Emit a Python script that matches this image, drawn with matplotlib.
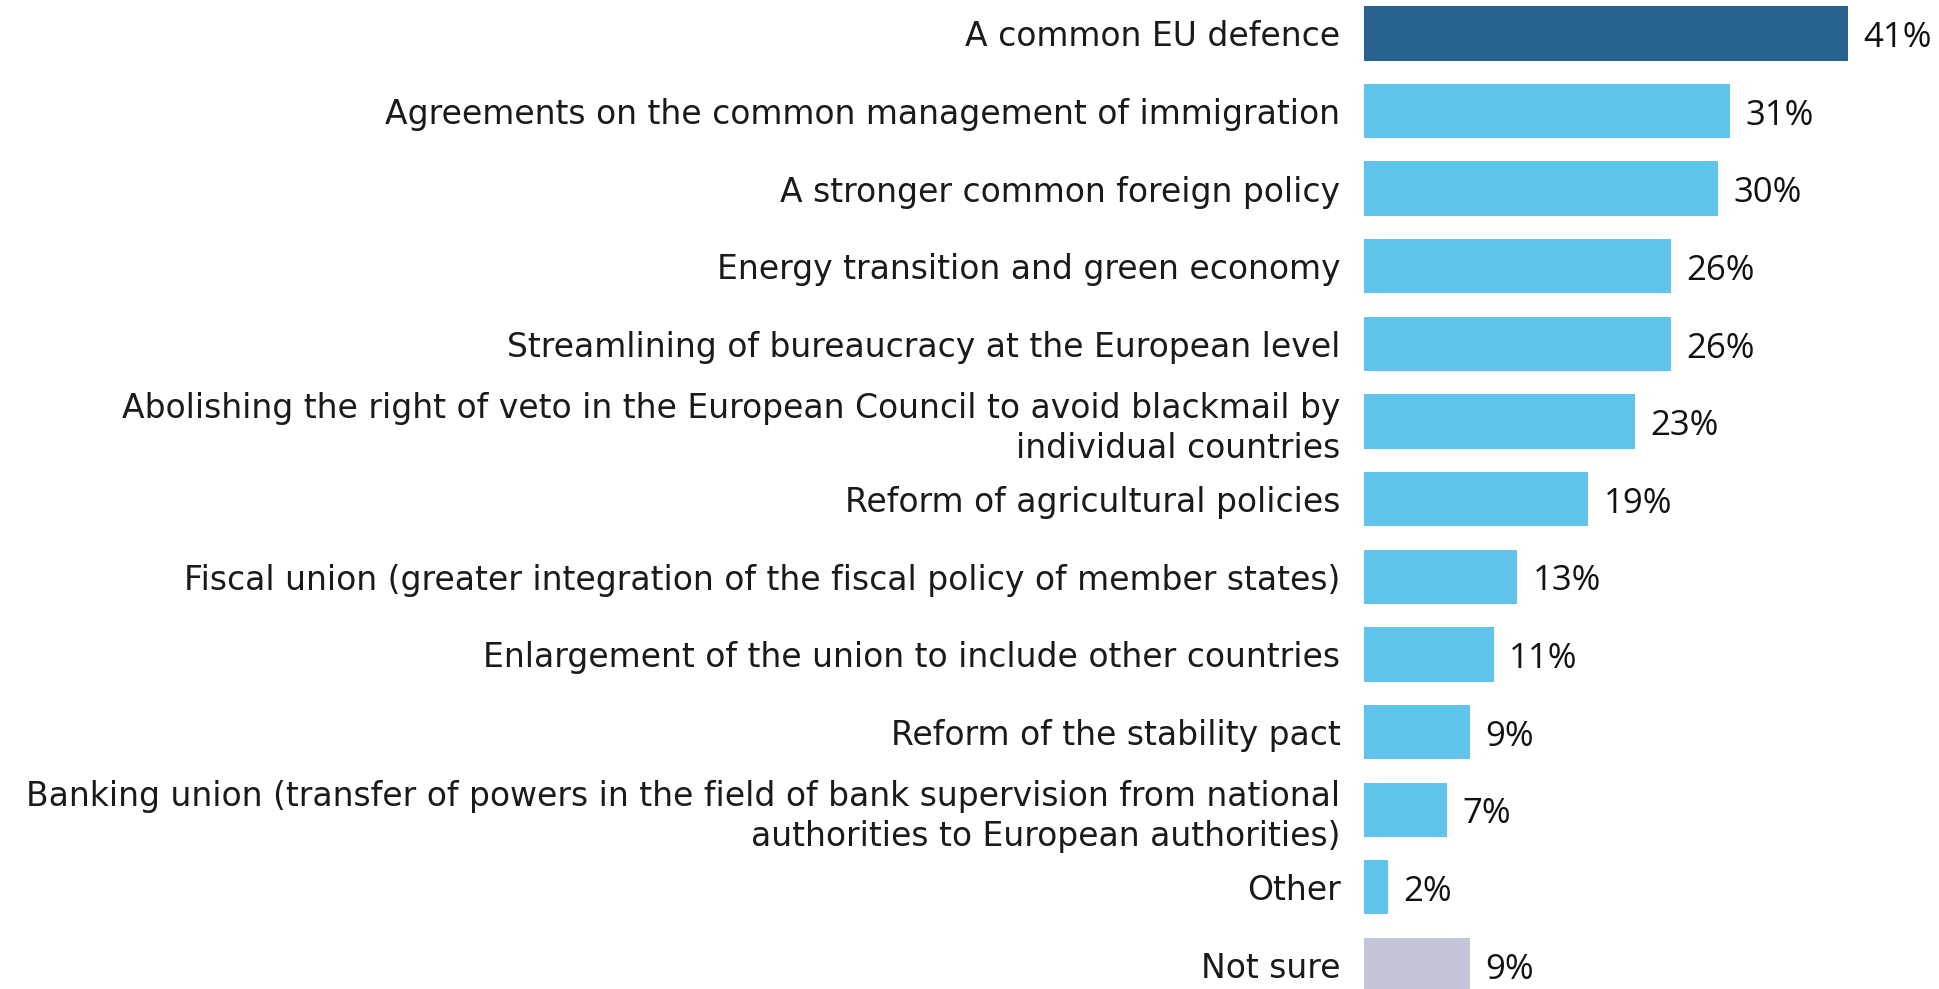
import matplotlib
matplotlib.use("Agg")
import matplotlib.pyplot as plt

categories = [
    "A common EU defence",
    "Agreements on the common management of immigration",
    "A stronger common foreign policy",
    "Energy transition and green economy",
    "Streamlining of bureaucracy at the European level",
    "Abolishing the right of veto in the European Council to avoid blackmail by\nindividual countries",
    "Reform of agricultural policies",
    "Fiscal union (greater integration of the fiscal policy of member states)",
    "Enlargement of the union to include other countries",
    "Reform of the stability pact",
    "Banking union (transfer of powers in the field of bank supervision from national\nauthorities to European authorities)",
    "Other",
    "Not sure",
]
values = [41, 31, 30, 26, 26, 23, 19, 13, 11, 9, 7, 2, 9]

dark_blue = "#27618e"
light_blue = "#5fc3eb"
grey = "#c3c6d9"
colors = [dark_blue] + [light_blue] * 11 + [grey]

W, H = 1939, 989
fig = plt.figure(figsize=(W / 100, H / 100), dpi=100)
left = 1364 / W
ax = fig.add_axes([left, 0, 1 - left, 1])

pos = list(range(len(categories)))
ax.barh(pos, values, height=0.7, color=colors)

ax.set_xlim(0, 575 / 11.8)
ax.set_ylim(12.31, -0.43)

# value labels to the right of each bar
for p, v in zip(pos, values):
    ax.text(v + 1.3, p + 0.06, f"{v}%", va="center", ha="left",
            fontsize=25, family="Open Sans", color="#111111")

ax.set_yticks(pos)
ax.set_yticklabels(categories, fontsize=23.8, family="DejaVu Sans",
                   color="#1a1a1a", multialignment="right",
                   linespacing=1.28)
ax.tick_params(axis="y", length=0, pad=17)
ax.set_xticks([])
for s in ax.spines.values():
    s.set_visible(False)

fig.savefig("out.png", dpi=100)
